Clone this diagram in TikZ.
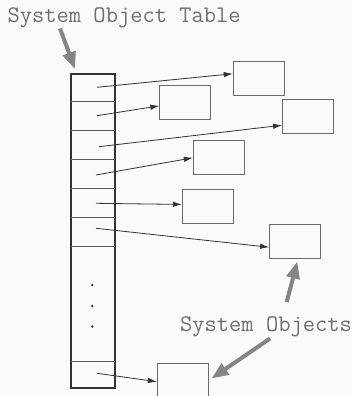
\documentclass[tikz,border=0pt]{standalone}
\usepackage{fontspec}
\usetikzlibrary{arrows.meta,calc}
\definecolor{bg}{HTML}{FAFAFA}
\definecolor{txt}{HTML}{6E6E6E}
\definecolor{boxc}{HTML}{6A6A6A}
\definecolor{tabc}{HTML}{333333}
\definecolor{bigarr}{HTML}{858585}
\tikzset{
  obj/.style={draw=boxc, line width=0.9pt, minimum width=51pt, minimum height=34pt, inner sep=0pt},
  ptr/.style={draw=tabc, line width=0.8pt, -{Latex[length=9pt,width=5.5pt]}},
  callout/.style={draw=bigarr, line width=4pt, -{Triangle[length=17pt,width=13pt]}},
  lbl/.style={font=\ttfamily\fontsize{23.8}{26}\selectfont, text=txt, inner sep=0pt},
  rowline/.style={draw=tabc!80, line width=0.8pt},
}
\begin{document}
\begin{tikzpicture}[x=1pt,y=-1pt]
\clip (0,0) rectangle (353,396);
\fill[bg] (0,0) rectangle (353,396);
% table
\node[draw=tabc, line width=2pt, minimum width=44pt, minimum height=314pt, inner sep=0pt] (tab) at (93,231) {};
\foreach \y in {101.5,130.5,159,188.5,217.5,246.5,361}
  \draw[rowline] (71,\y) -- (115,\y);
\foreach \y in {285,306,326.5}
  \fill[tabc] (92.3,\y) circle (1.3pt);
% row pointer starts
\coordinate (r1) at (97,87.3);
\coordinate (r2) at (97,115.7);
\coordinate (r3) at (99,146.7);
\coordinate (r4) at (96,175);
\coordinate (r5) at (96,203.3);
\coordinate (r6) at (96,228.3);
\coordinate (r7) at (97,373.3);
% objects
\node[obj] (B1) at (258.7,78.3) {};
\node[obj] (B2) at (185.3,102.2) {};
\node[obj] (B3) at (308,116.3) {};
\node[obj] (B4) at (218.8,157.8) {};
\node[obj] (B5) at (207.8,206.7) {};
\node[obj] (B6) at (295,241.7) {};
\node[obj] (B7) at (182.8,380.3) {};
\draw[ptr] (r1) -- (B1.170);
\draw[ptr] (r2) -- (B2.188);
\draw[ptr] (r3) -- (B3.199);
\draw[ptr] (r4) -- (B4.180);
\draw[ptr] (r5) -- (B5.175);
\draw[ptr] (r6) -- (B6.192);
\draw[ptr] (r7) -- (B7.183);
% labels
\node[lbl, anchor=base west] (T) at (7.5,23) {System Object Table};
\node[lbl, anchor=base west] (L) at (180,331) {System Objects};
\coordinate (t0) at (60,28.5);
\coordinate (t1) at (75,69);
\coordinate (l0) at (286.7,302);
\coordinate (l1) at (297.3,261.5);
\coordinate (l2) at (270,338.5);
\coordinate (l3) at (211.5,378.5);
\draw[callout] (t0) -- (t1);
\draw[callout] (l0) -- (l1);
\draw[callout] (l2) -- (l3);
\end{tikzpicture}
\end{document}
